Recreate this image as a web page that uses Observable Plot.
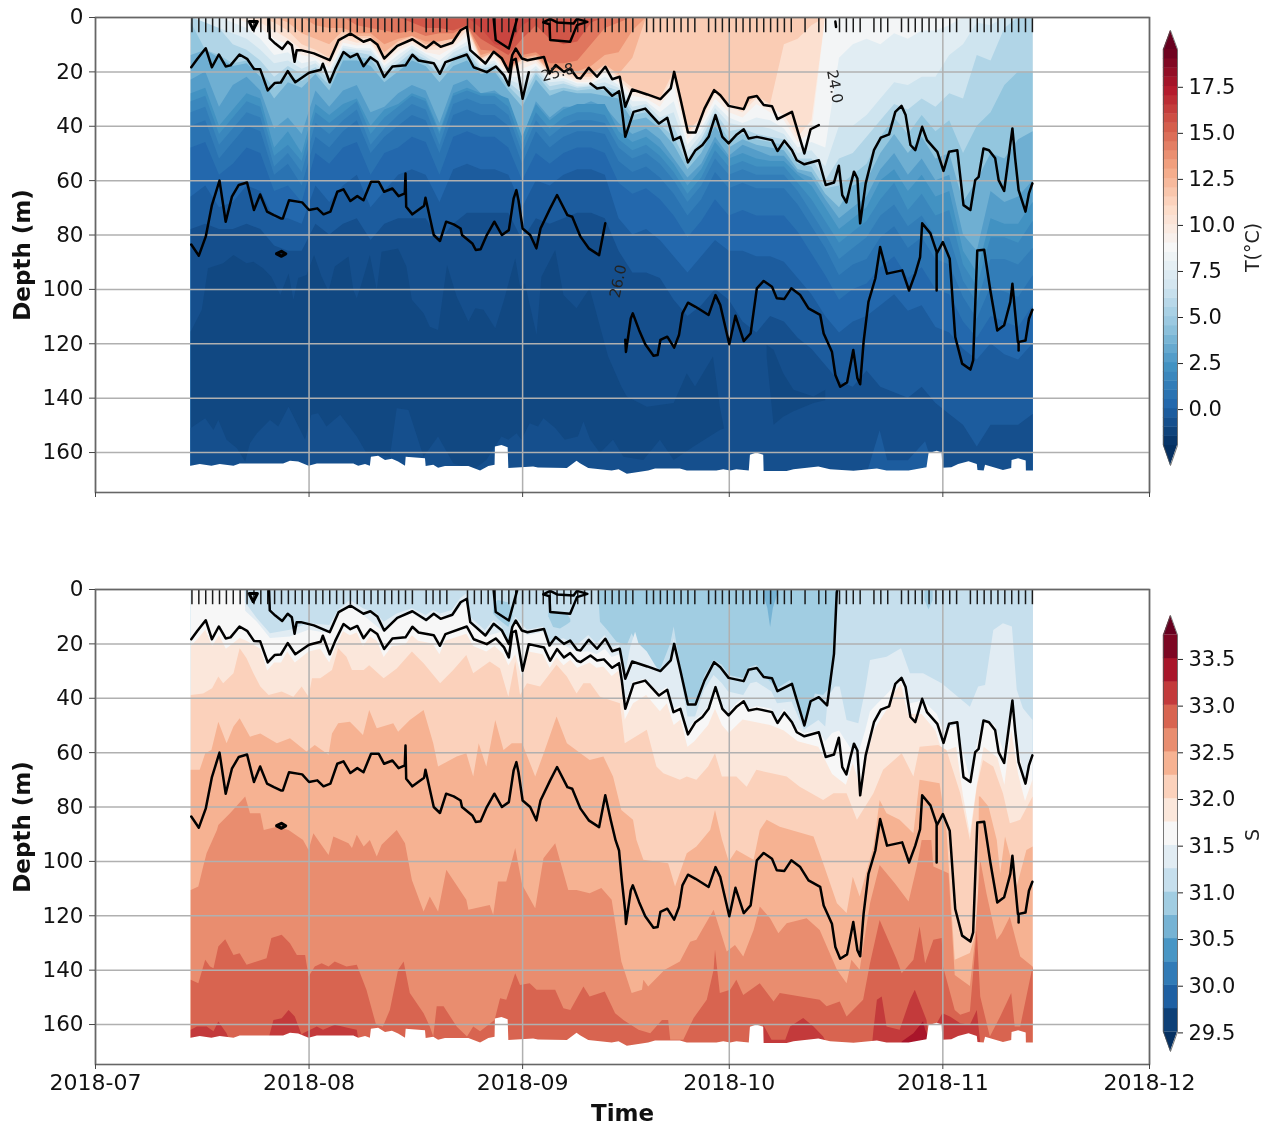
<!DOCTYPE html>
<html>
<head>
<meta charset="utf-8">
<style>
html,body{margin:0;padding:0;background:#fff;}
#chart{position:relative;width:1271px;height:1127px;overflow:hidden;font-family:"DejaVu Sans";filter:blur(0.4px);}
#chart>div,#chart>svg{position:absolute;}
</style>
<script src="https://cdn.jsdelivr.net/npm/d3@7"></script>
<script src="https://cdn.jsdelivr.net/npm/@observablehq/plot@0.6"></script>
</head>
<body>
<div id="chart"></div>
<script>
// All times are days since 2018-07-01, all depths metres.
const monthTicks = ["2018-07-01","2018-08-01","2018-09-01","2018-10-01","2018-11-01","2018-12-01"];
const depthTicks = [0,20,40,60,80,100,120,140,160];
const tempTicks = [0,2.5,5,7.5,10,12.5,15,17.5];
const salTicks = [29.5,30,30.5,31,31.5,32,32.5,33,33.5];
const profileDays = [14,15,16,17,18,19,20,21,22,23,24,25,26,27,28,29,30,31,32,33,34,35,36,37,38,39,40,41,42,43,44,45,46,48,49,50,51,54,55,56,57,58,59,60,61,62,63,64,65,66,67,68,69,70,71,72,73,74,75,76,77,78,80,81,82,83,84,85,86,87,89,90,91,92,93,94,95,96,97,98,99,100,101,103,105,106,108,109,110,111,113,114,115,117,118,119,120,121,122,123,124,125,127,128,129,130,131,132,133,134,135,136];

// black density contours: [day, depth]
const contourA = [[25.2,0.4],[25.3,7.7],[26.1,9.6],[27.1,11.6],[27.9,8.9],[28.5,10.2],[28.9,16.3],[29.2,12],[29.8,12],[31.7,13.2],[34,15.7],[35.3,8.3],[37,5.9],[38.9,8.9],[39.9,8],[40.9,9.9],[41.9,15.1],[43.8,10.4],[46,8],[48,11.2],[49.1,8.9],[50.1,10.8],[51.8,9.3],[53,4.7],[53.9,3.4],[54.4,12],[56.6,16.9],[57.8,12.6],[59,15.1],[60,20],[60.5,13.8],[61,11.4],[61.9,15.1],[62.7,15.7],[65.1,14.5],[65.9,20.6],[66.8,17.5],[68,20],[68.9,18.8],[69.9,22.2],[70.4,22.4],[71.6,18.5],[72.8,21.8],[74,18.1],[75,22.7],[76.1,21.8],[76.9,32.8],[77.9,26.5],[80.1,28.3],[82,30],[83.5,26.1],[84,20],[84.9,29.8],[86,42.3],[87.1,42.3],[88.4,33.5],[89.8,26.7],[90.7,28.6],[91.9,32.5],[94.1,33.7],[94.8,29.5],[96,28.9],[97,32.2],[98.2,32.6],[99,37.4],[101.1,34.7],[102.9,50],[103.8,41.1],[105,39.6],[106.2,42.6],[107.2,23.7],[107.6,1],[107.7,0]];
const contourB = [[13.9,18.3],[14.8,15.2],[16,11.3],[16.9,18.3],[17.9,13.6],[18.9,18],[19.6,17.6],[20.9,13.6],[22,15.2],[23,18.9],[23.9,19],[25,26.8],[26,24.1],[26.9,23.9],[27.9,19.7],[29,23.8],[31,20.3],[32.7,19.2],[33,17],[34,23.8],[34.8,18.9],[36,12.7],[37,14.6],[38,13.4],[38.9,17.9],[39.9,14.6],[40.9,16.4],[41.9,21.9],[43.1,18],[45,17.6],[46,13.7],[46.9,15.8],[49.1,16.8],[50,20.7],[50.8,16.4],[53.9,13.6],[54.9,18.3],[56.8,20.1],[58.1,18],[59.3,21.3],[60,25],[60.5,15.8],[61,15.2],[61.4,20.7],[62,29.9],[62.9,20.1],[65.1,21.3],[66,26.2],[67,21.9],[68,25],[68.9,23.4],[69.9,26.2],[70.4,26.7],[71.85,24.3],[72.8,26.1],[73.8,25.7],[75,28.8],[76,27.1],[76.4,33.5],[76.9,43.9],[78.1,34.7],[79.8,33.5],[81.8,39],[83,36.9],[83.9,45.1],[84.9,43.9],[86,53.3],[87.1,48.8],[88.1,46.9],[89,43.9],[90,35.9],[91,43.9],[91.9,46.3],[93.1,43],[94.1,41.1],[94.8,44.5],[96,43.9],[98.2,45.1],[99,49.1],[100,45.3],[101.1,48.8],[101.8,52.5],[102.9,54],[105,52.5],[106,61.6],[107.2,60.7],[107.9,54.5],[108.4,65.3],[109,68],[109.6,61.6],[110.1,56.7],[110.6,59.2],[111,75.7],[111.8,61],[113,48.8],[114,44.2],[115.2,43],[116.1,34.7],[117,32.5],[117.6,35.9],[118.3,46.9],[119,48.8],[120,40.2],[120.7,45.1],[122.2,49.4],[123.1,56.4],[123.9,49.4],[125.1,48.8],[126,69],[127,70.8],[127.7,59.8],[128.2,58.6],[128.9,48.2],[129.7,48.8],[130.6,51.8],[131.1,59.8],[131.9,63.8],[133.1,40.8],[133.5,51.8],[134,63.5],[135,71.4],[135.5,64.7],[136,61]];
const contourC = [[13.9,83.5],[15,87.6],[16,80.6],[16.9,69],[18,60],[18.9,75.1],[19.8,65.9],[20.8,61.6],[22,60.7],[23,70.8],[23.9,65.1],[24.9,71.4],[25.9,72.7],[26.9,73.9],[27.2,73.9],[28.1,67.2],[30,68],[31,70.8],[32.2,70.2],[33.1,72.4],[34.1,71.4],[35.1,64.1],[36,63.2],[37,67.5],[38,65.7],[38.9,67.2],[40,60.4],[41.1,60.4],[41.9,64.1],[43.1,62.9],[44,65.7],[44.9,64.7],[45,57.4],[45.1,69.6],[46,72.4],[47.7,69.2],[47.9,66.3],[49.1,80],[50,82.2],[50.9,75.1],[52,76.1],[53,77.6],[53.2,80],[54.7,83.1],[55.2,85.5],[55.9,85.2],[56.8,80],[57.9,75.1],[59,80],[60,78.2],[60.7,66.5],[61.1,63.5],[61.4,67.2],[62,77.6],[63.1,80],[64,84.9],[64.6,77.6],[66,70.2],[67,65.3],[68.5,72.7],[69.2,73.3],[70.4,80.6],[71.6,84.9],[73.1,87.4],[74,75.7],[74.8,84.9],[75.5,92.3],[76,96],[76.4,107],[76.9,118.5],[77,123],[77.7,110.7],[78,108.8],[78.9,114.9],[79.8,120.2],[81,124.4],[81.6,124.1],[82,118.6],[83,117.4],[84,121.4],[84.7,116.8],[85.2,108.8],[86,104.9],[87.1,106.4],[89,109.4],[90,102.1],[90.7,105.8],[92,120.2],[92.9,109.7],[94.1,119],[95.1,116.2],[96,99.6],[97,96.9],[98.2,99],[98.9,103.3],[100,103.5],[101,99.6],[102.3,102.1],[103.5,107],[105.2,109.4],[105.7,116.2],[106.9,122.9],[107.4,131.5],[108.1,135.8],[109.1,134.2],[110,122.3],[110.6,132.7],[111,134.9],[111.5,119.2],[112.2,104.6],[113.2,96],[113.9,84.4],[114.9,94.2],[117.1,93],[118.1,100.4],[119,94.2],[119.7,88.1],[120,75.7],[121.2,79.4],[122.1,86.2],[122.1,100.4],[122.1,86.9],[123,82.6],[124,88.7],[124.8,117.5],[125.8,127.3],[127,129.5],[127.4,126.1],[128,85.7],[129,85.4],[129.9,100.4],[130.9,115.1],[131.9,113.2],[132.8,104.6],[133.1,97.9],[133.9,119.4],[135,118.8],[135.5,110.8],[136,107.5]];
const contourV = [[57.8,0.4],[58.1,8.3],[60,11.4],[61.2,0.4]];
const contourLoop = [[65,1.8],[65.9,2.5],[66,8.3],[68.9,8.9],[69.9,2.8],[71.4,1.6],[69.9,0.5],[69.4,2.2],[67,1.8],[66,0.5],[65,1.8]];
const contourDiamond = [[22.3,1.5],[23.5,1.5],[22.9,4.5],[22.3,1.5]];
const contourLens = [[26.3,86.9],[27,86],[27.6,86.9],[27,87.8],[26.3,86.9]];
const contourDot = [[134,120],[134,122.5]];
const contourFragment = [[107.4,1.5],[107.5,3.5]];
const contourLabels = [
  {day:67.1,depth:20.2,text:"25.8",rotate:-15},
  {day:107.3,depth:25.4,text:"24.0",rotate:80},
  {day:75.9,depth:97,text:"26.0",rotate:-78}
];

// sea floor / deepest sample
const bottomEdge = [[13.6,165],[13.9,165],[15.2,164.4],[16.9,165],[18.1,164.4],[20.1,165],[21,164.2],[27.3,164.2],[28.3,163.2],[29.5,163.5],[31,165],[32.2,164.2],[37.5,164.2],[38.2,165],[39.2,164.4],[39.9,165],[40.05,161.7],[41.1,161.4],[42.1,162.9],[43.1,162.5],[44,163.5],[45,165],[45.1,161.7],[47.9,162.3],[48,165.1],[49.1,164.7],[49.8,165.8],[50.8,165.1],[54.2,165.1],[55.9,166.8],[57.1,165.1],[58,164.7],[58.05,158],[59,157.4],[59.9,158.2],[60,165.9],[63.6,165.3],[64.3,165.7],[68.5,165.9],[69.9,163.2],[70.4,164.1],[71.6,165.9],[75,166.8],[76,166.3],[77.2,168],[80.3,166.8],[81.3,166.1],[84.9,166.1],[85.9,166.8],[90.2,166.8],[91.2,166.3],[92.2,166.8],[93.1,166.3],[94.9,166.8],[95.07,161],[96,160.2],[97,161],[97.06,167],[100.4,167],[101.4,166.3],[105,165.3],[106.7,166.3],[110.1,166.9],[113.5,166.1],[114.9,166.8],[118.1,166.8],[120.7,165.6],[121,160.4],[122.2,159.5],[122.9,160.2],[123,165.8],[124.3,165.6],[125.3,164.4],[126.8,163.4],[128,164.4],[128.1,166.6],[129,166.8],[129.2,164.7],[131.8,166.6],[133,165.9],[133.05,162.9],[134,162.3],[135.1,163.1],[135.13,166.8],[136.1,166.8],[136.4,166.8]];

// isotherm depths on a two-day grid
const gridDays = [13.9,16,18,20,22,24,26,28,30,32,34,36,38,40,42,44,46,48,50,52,54,56,58,60,62,64,66,68,70,72,74,76,78,80,82,84,86,88,90,92,94,96,98,100,102,104,106,108,110,112,114,116,118,120,122,124,126,128,130,132,134,136.1];
const iso6 = [0,2,4,10,12,16,22,18,21,18.5,23,12.5,13,14,20.5,17,13,15.5,20,14.5,12.5,19,18,24,28,20,25.5,24.5,26,25.5,25.5,27,34.5,33.5,38.5,40,52,45,35,42,41,43,44,45,52,52,60,52,50,44,38,32,34,30,33,28,30,14,16,4,0,0];
const iso5 = [2,12,14,17,16,20,26,21.5,23.5,20,25,14,14.5,15.5,22,18.5,14,16.5,21.5,16,14,20,19,25.5,30.5,21,27,26,27,26.5,27,28,36,35,39.5,44,54,47,37,45,43,45,46,47,54,55,63,62,58,54,44,37,43,36,42,38,50,40,35,25,20,20];
const iso4 = [14,12,15,18,17,22,30,24,26,21,27,16,16,18,24,20,16,18,24,18,16,21,20,27,33,23,29,27,28,28,29,30,38,37,41,47,56,50,40,48,45,47,48,49,56,57,65,70,62,60,50,43,50,44,52,50,68,60,50,52,45,42];
const iso3 = [23,20,33,25,22,27,41,37,43,27,33,27,25,35,33,28,25,27,39,25,23,28,27,31,45,31,37,33,33,31,33,39,43,41,45,52,59,54,44,51,47,49,51,51,57,59,67,74,70,66,56,50,58,52,60,58,80,86,64,68,66,60];
const iso25 = [28,26,40,34,28,30,48,42,50,32,36,32,30,40,34,32,28,30,42,28,26,28,28,30,44,32,38,34,32,32,32,42,46,44,48,54,62,56,46,52,50,52,53,53,58,62,70,78,74,70,60,56,64,58,66,64,86,94,74,76,76,68];
const iso2 = [31,29,43,37,31,33,51,47,53,35,39,35,31,43,37,33,29,31,43,29,27,29,29,33,47,35,41,37,35,35,36,45,49,47,51,57,65,59,49,55,53,55,55,55,61,67,75,83,79,75,67,61,71,65,73,71,91,99,81,81,83,75];
const iso15 = [35,33,47,41,35,37,55,50,57,39,43,38,34,47,41,36,32,34,47,32,30,32,32,36,50,38,44,40,38,38,39,48,52,50,54,60,68,62,52,58,56,58,58,58,64,72,80,89,85,81,73,69,77,73,81,81,97,105,89,89,91,85];
const iso1 = [40,38,52,46,40,42,58,54,62,44,48,42,38,50,44,40,36,38,50,36,34,36,36,40,54,42,48,44,42,42,43,53,57,55,59,65,73,67,57,63,61,63,63,63,69,77,85,95,91,89,81,77,85,81,89,91,103,111,99,101,103,95];
const iso05 = [48,46,58,54,48,50,64,62,68,50,54,48,46,58,50,48,44,46,58,44,42,44,44,48,60,50,54,50,48,48,50,61,65,63,67,73,81,75,67,73,71,73,73,73,79,87,95,104,100,98,92,88,96,92,100,102,112,118,110,112,114,106];
const iso0 = [66,62,70,68,62,64,74,74,76,62,68,62,58,70,64,58,56,58,68,56,54,56,56,58,70,60,62,58,56,56,58,74,80,78,82,88,94,88,82,86,86,88,88,90,96,102,110,116,112,110,106,102,108,106,114,116,122,126,120,124,126,120];
const isoM05 = [78,76,78,78,76,78,84,86,86,76,80,76,74,82,76,74,74,74,82,76,72,72,72,72,82,74,76,74,72,72,74,86,94,94,96,104,110,106,100,104,112,116,110,112,118,122,128,134,136,130,136,138,140,136,142,146,150,158,150,150,150,146];

// warm surface isotherms [day, depth]
const iso16 = [[13.9,0],[54,0],[56,4],[58,10],[60,11],[62,3],[64,0],[136.1,0]];
const iso15u = [[13.9,0],[44,0],[46,2],[48,4],[50,4],[52,5],[54,3],[56,8],[58,11],[60,14],[62,8],[64,3],[66,8],[68,10],[70,9],[72,2],[74,0],[136.1,0]];
const iso14 = [[13.9,0],[36,0],[38,3],[40,4],[42,5],[44,6],[46,5],[48,7],[50,6],[52,6],[54,3],[56,12],[58,12.5],[60,19],[62,14],[64,13],[66,17],[68,17],[70,16],[72,10],[74,4],[76,2],[78,0],[136.1,0]];
const iso13 = [[13.9,0],[30,0],[32,3],[34,4],[36,4],[38,6],[40,6],[42,10],[44,8],[46,7],[48,9],[50,9],[52,8],[54,3],[56,14],[58,12.5],[60,19],[62,15],[64,14],[66,19],[68,19],[70,20],[72,18],[74,14],[76,13],[78,5],[80,0],[136.1,0]];
const iso12 = [[13.9,0],[26,0],[28,2],[30,6],[32,8],[34,10],[36,5],[38,7],[40,7],[42,13],[44,9],[46,7],[48,10],[50,9],[52,8],[54,3.5],[56,15],[58,12.8],[60,19.5],[62,15.5],[64,14.5],[66,20],[68,19.5],[70,21],[72,21],[74,17.5],[76,21],[78,15],[80,0],[136.1,0]];
const iso11 = [[13.9,0],[24,0],[26,2],[28,5],[30,10],[32,12],[34,15],[36,6.5],[38,8],[40,7.5],[42,14.5],[44,10],[46,7.8],[48,11],[50,10.5],[52,8.8],[54,3.8],[56,15.5],[58,12.8],[60,20],[62,15.7],[64,15],[66,20.3],[68,20],[70,22],[72,22],[74,18],[76,22],[78,26],[80,28],[82,30],[84,20],[86,42],[88,37],[90,27],[92,32],[94,33.5],[96,29],[98,32],[100,10],[102,8],[104,3],[106,0],[136.1,0]];
const iso10 = [[13.9,0],[22,0],[24,2],[26,5],[28,8],[30,12],[32,14],[34,17],[36,8],[38,9.5],[40,9],[42,16],[44,11],[46,9],[48,12],[50,12],[52,10],[54,5],[56,16],[58,14],[60,20.5],[62,17],[64,16],[66,21],[68,21],[70,23],[72,23],[74,19],[76,23],[78,27.5],[80,29],[82,31],[84,22],[86,43],[88,38],[90,28],[92,33],[94,35],[96,30],[98,33],[100,36],[102,44],[104,38],[106,0],[136.1,0]];
const iso9 = [[13.9,0],[20,0],[22,2],[24,4],[26,8],[28,10],[30,14],[32,15],[34,18.5],[36,9.5],[38,10.5],[40,10],[42,17],[44,12.5],[46,10],[48,13],[50,14],[52,11],[54,7],[56,17],[58,15],[60,21.5],[62,19],[64,17],[66,22],[68,22],[70,24],[72,24],[74,20.5],[76,24],[78,29],[80,30],[82,33],[84,25],[86,45],[88,39.5],[90,30],[92,35],[94,37],[96,32],[98,35],[100,38],[102,46],[104,42],[106,0],[136.1,0]];
const iso8 = [[13.9,0],[18,0],[20,2],[22,4],[24,8],[26,14],[28,13],[30,17],[32,16],[34,20],[36,10.5],[38,11.5],[40,11.5],[42,18],[44,14],[46,10.5],[48,13.5],[50,16],[52,12],[54,9],[56,17.5],[58,16],[60,22],[62,22],[64,18],[66,23],[68,22.5],[70,24.5],[72,24.5],[74,22],[76,25],[78,31],[80,31],[82,35],[84,31],[86,47],[88,41],[90,32],[92,37],[94,39],[96,37],[98,38],[100,41],[102,48],[104,46],[106,48],[108,15],[110,10],[112,8],[114,10],[116,6],[118,8],[120,5],[122,5],[124,3],[126,0],[136.1,0]];
const iso7 = [[13.9,0],[16,3],[18,4],[20,6],[22,8],[24,12],[26,17],[28,16],[30,19],[32,17],[34,21.5],[36,11.5],[38,12],[40,12.5],[42,19],[44,15.5],[46,11.5],[48,14.5],[50,18],[52,13],[54,10.5],[56,18],[58,17],[60,23],[62,25],[64,19],[66,24],[68,23.5],[70,25.5],[72,25],[74,24],[76,26],[78,33],[80,32],[82,37],[84,35],[86,49.5],[88,43],[90,33.5],[92,39],[94,40],[96,40],[98,41],[100,43],[102,50],[104,49],[106,55],[108,40],[110,40],[112,36],[114,30],[116,24],[118,25],[120,22],[122,22],[124,14],[126,10],[128,2],[130,3],[132,0],[136.1,0]];

// deep cold water and warmer bottom layer [day, depth]
const isoM1 = [[13.9,115.7],[15.5,107.7],[16.4,92.4],[18.6,90.6],[20.1,87.5],[22,90.6],[23,90],[24.4,92.4],[25.6,95.5],[26.9,102.2],[28.1,94.3],[28.8,104],[29.5,96],[30.7,94.9],[31.8,87.5],[32.9,95.5],[33.9,101],[34.8,91.8],[36.8,88.1],[37.5,100.4],[38,103.4],[38.7,97.9],[39.9,87.5],[40.9,100.4],[41.6,86.3],[44,85.1],[45.2,91.8],[46,104],[47.7,109],[48.6,113.9],[49.8,115.1],[51.1,91.2],[52.5,102.8],[54.2,112],[55.2,107.1],[56.4,107.7],[58.1,114.5],[59.3,104.7],[61,88.7],[61.7,99.2],[62.4,97.9],[64.1,116.9],[64.8,95.5],[66.8,85.7],[68,102.2],[69.9,107.1],[71.8,99.8],[74.5,125],[76.4,135.9],[77.2,139.6],[80.1,143.3],[84,142],[85.9,131],[87.1,135.9],[89.7,124.9],[90.7,143.3],[92,160.4],[92.2,178],[136.1,178]];
const warmBottom = [[13.9,151.2],[16,147.6],[17.2,151.9],[17.9,148.2],[19.1,155.5],[20.6,158.6],[21.8,163.5],[22.5,156.8],[23.5,153.1],[25.4,148.2],[26.6,150.6],[28.1,143.3],[30.5,155.5],[31.4,146.3],[32.4,145.7],[33.6,150.6],[35.6,146.3],[38,154.3],[39.4,160.4],[42.8,161.7],[43.8,143.9],[45.5,144.5],[47.7,161.7],[49.8,154.3],[52,164.1],[54.9,166.6],[56.8,162.9],[59,154.3],[60,155.5],[61.2,153.1],[61.9,155.5],[63.1,149.4],[64.3,150.6],[65.1,147.6],[66.8,151.2],[68.2,155.5],[70.1,154.3],[70.9,148.8],[71.9,155.5],[73.3,160.4],[75.2,155.5],[76.7,161.7],[79.6,162.9],[82,155.5],[84,162.9],[86.9,158],[90.7,151.9],[92,150.6],[92.2,178],[136.1,178]];
const coldPatchDays = [97.5,98.5,99.9,101.4,104.3,106];
const coldPatchTop = [120.6,122.4,131,137.1,139.6,137.1];
const coldPatchBottom = [125,150,147,145,142,141];
const warmPatchDays = [112,113.9,115,118,120.5,121];
const warmPatchTop = [168,152,163,163,156,160];

// salinity isohalines [day, depth]
const sal31 = [[13.9,0],[73,0],[73.3,12],[74.3,14.9],[75.7,19.4],[77.2,20.6],[77.9,16.3],[79.1,23],[82,29.8],[83.5,20],[84,13.8],[84.4,20],[85.9,41.4],[87.1,42],[88.5,31.6],[89.8,26],[91,27.9],[92,31.6],[94.1,32.8],[94.8,29],[96,27.9],[97,31.6],[99,36.5],[100.9,33.5],[103.1,49.4],[104.5,38.4],[105.7,39],[106.9,35.3],[107.6,0.4],[107.8,0],[136.1,0]];
const sal3125 = [[13.9,0],[21.7,0],[21.8,5],[23.5,10.8],[25.4,16.3],[28.3,15],[31,12.6],[34,13.2],[35.3,7.7],[37,4],[38.9,7.1],[40.9,9],[41.9,12],[43.8,9],[46,7.1],[48,9.6],[49.1,7.7],[50.1,9],[51.8,7.7],[53,3.4],[53.9,1.6],[54.4,10.2],[56.6,15.1],[57.8,11.4],[59,13.8],[60,20],[61,10.2],[62.7,15],[65.1,13.8],[65.9,19.4],[68,18.1],[69.9,20.6],[71.6,16.9],[72.8,20],[74,16.9],[75,21.2],[76.1,20.6],[76.9,31.6],[77.7,21.2],[78.4,15.7],[78.9,20],[80.1,23],[82,31],[83.5,26.1],[84,18.1],[84.9,31],[86,46.9],[87.1,46.9],[88.4,37.1],[89.8,31.6],[91,34.7],[91.9,37.7],[94.1,39],[95.1,34.7],[96,34.1],[98.2,37.7],[99,42],[101.1,41.4],[102.9,51.8],[105,48.2],[106,50.6],[106.4,39.6],[107.4,35.9],[108.1,35.9],[109.1,48.2],[110.8,49.4],[111.8,37.1],[112.5,26.1],[114.9,24.9],[117,21.8],[118.3,31],[120.2,31],[122.9,34.7],[127,43.3],[128.2,35.9],[129.2,35.3],[130.4,15.1],[131.8,12.6],[133.1,13.8],[133.8,37.1],[134.7,43.9],[136.1,48.2]];
const sal315 = [[13.9,0],[21.7,0],[21.8,8],[23.5,12],[25.4,18],[28.3,17.5],[31,15],[34,16.3],[35.3,9],[37,6.5],[38.9,9.6],[41.9,15.7],[43.8,10.8],[46,8.9],[48,12],[49.1,9.6],[51.8,10.2],[53.9,4],[54.4,12.6],[56.6,17.5],[59,15.7],[60,20.6],[61,12],[62.7,17],[65.1,15.7],[65.9,21],[68,20.6],[69.9,23],[71.8,23],[72.8,24],[74,22],[75,25],[76.1,24],[76.9,42],[78.1,34],[79.8,33],[81.8,38],[83,36],[83.9,44],[84.9,43],[86,52],[87.1,48],[88.1,46],[89,43],[90,35],[91,43],[91.9,45.5],[93.1,42],[94.1,40],[94.8,44],[96,43],[98.2,44],[99,48],[100,44],[101.1,48],[101.8,51],[102.9,53],[105,52],[106,56],[107,53],[108,52],[109,56],[110.6,62],[111.8,52],[112.5,45],[113.6,42],[115.2,38],[116.1,35],[117,33],[118.3,42],[120.2,41],[122.2,46],[123.1,52],[125,50],[126,60],[127,70],[127.7,60],[128.9,48],[130.6,50],[131.9,60],[133.1,42],[133.8,55],[135,72],[136.1,62]];
const sal3175 = [[13.9,21],[15,18],[16,15],[17,21],[18,17],[19,22],[21,18],[22,19],[24,22],[25,30],[26,27],[27,27],[27.9,23],[29,27],[31,23],[32.7,22],[34,27],[34.8,22],[36,15.5],[37,17],[38,16],[38.9,21],[39.9,17.5],[40.9,19],[41.9,25],[43.1,21],[45,20.5],[46,17],[46.9,19],[49,20],[50,24],[50.8,19],[53.9,16.5],[54.9,21],[56.8,23],[58,21],[59.3,24],[60,28],[61,24],[62,33],[62.9,23],[65,24],[66,29],[67,25],[68,28],[69,26],[70,29],[71.8,27],[72.8,29],[73.8,28.5],[75,32],[76,30],[76.4,36],[76.9,48],[78.1,42],[80,39],[82,45],[83,42],[84,50],[85,48],[86,58],[87,56],[89,50],[90,44],[91,50],[92,53],[94,48],[96,49],[98,50],[100,52],[102,56],[105,58],[107,68],[109,72],[110,64],[111,72],[112,62],[113,52],[115,44],[116,38],[117,35],[118,46],[120,46],[122,52],[123,60],[125,58],[126,76],[127,90],[128,72],[129,58],[131,62],[132,72],[133,52],[134,68],[135,78],[136.1,70]];
const sal32 = [[13.9,39],[15.7,38.4],[17,36.5],[17.9,32.2],[18.6,34.7],[20.1,31],[21,21.8],[22,25.5],[23,31],[24,35.9],[25.2,39],[27.1,37.7],[28.8,39.6],[30,35.9],[31,39.6],[31.5,32.8],[32.7,32.8],[34.4,29.8],[35.3,21.8],[36.5,24.9],[37.3,29.8],[39,29.8],[39.8,28],[41.9,32.8],[43.8,29.2],[46,23],[47.7,27.3],[50.1,34.7],[52,29.8],[53.9,24.3],[54.9,31],[57.3,26.7],[58.8,29.2],[60,39.6],[61,26.7],[61.7,39],[62.7,34.7],[64.6,35.9],[67,27.9],[68.5,32.2],[69.9,38.4],[70.9,34.7],[71.9,34.7],[73.3,39.6],[76.2,42],[76.9,56.7],[80.1,51.8],[81.5,65.3],[82.5,67.8],[84.9,70.2],[85.9,69],[87.3,70.2],[89,65.3],[90,60.4],[91,69],[93.1,69],[94.6,72.7],[96,66.5],[100.4,69],[102.3,72.7],[105.7,77.6],[107.2,75.1],[109.1,75.1],[110.6,84.9],[113,75.1],[114.4,66.5],[117.1,60.4],[118.8,69],[119.7,58],[122.4,57.4],[123.6,59.2],[125.6,75.1],[127,92.3],[128,72.7],[128.9,62.9],[130.4,65.3],[131.8,75.1],[132.8,86.2],[134.3,84.9],[136.1,76.3]];
const sal3225 = [[13.9,66.5],[15.2,66.5],[16,60.4],[16.9,59.2],[17.9,48.8],[19.1,56.7],[20.1,50.6],[21,47.5],[22.5,54.3],[24,53.1],[26.4,56.7],[28.3,54.9],[30.7,59.8],[31.9,57.4],[33.9,61],[34.4,53.1],[35.3,49.4],[37,48.8],[38.9,53.7],[39.8,44.5],[40.9,51.2],[43.3,49.4],[44,52.5],[45.7,48.2],[47.7,44.5],[49.1,56.7],[49.8,65.3],[52.5,61.6],[53.9,60.4],[54.9,69],[55.7,56.7],[56.8,65.3],[58.1,48.2],[59.3,59.2],[60.5,56.7],[62,56.7],[63.9,69],[65.3,59.2],[67,46.9],[68.5,56.7],[71.8,62.9],[73.8,61.6],[75.2,69],[76.4,81.3],[78.1,84.9],[78.6,92.3],[79.6,99.6],[83.2,100.9],[84.2,109.4],[85.9,97.2],[87.3,94.7],[89.3,88.6],[90,81.3],[91,92],[92,100.2],[93.1,96],[95.6,99.6],[96.5,88.6],[97.5,84.9],[99.4,87.4],[104.3,91],[105.7,100.9],[107.7,115.6],[109.1,119.2],[110,105.8],[111,113.1],[113,94.7],[113.9,77.6],[114.9,82.5],[116.8,84.9],[118.8,89.8],[119.7,70.2],[122.6,71.4],[123.6,88.6],[124.8,136.4],[127,133.9],[128.2,122.9],[128.3,76.3],[128.5,76.3],[129.7,80],[130.9,92.3],[131.4,104.5],[132.1,91],[133,99.6],[133.8,109.4],[135.2,96],[136.1,94.7]];
const sal325 = [[13.9,110.7],[15,109.4],[15.7,102.1],[16.2,97.2],[17.7,88.6],[17.9,86.8],[19.6,82.5],[21.8,76.3],[22.5,82.5],[24,82.5],[24.5,88.6],[26.4,87.4],[28.1,88.6],[30.2,92.3],[31,96],[31.7,89.8],[32.7,93.5],[33.9,97.8],[34.6,91],[36.8,93.5],[37.3,95.3],[38,90.4],[39,94.7],[39.9,92.3],[40.9,98.4],[41.6,94.1],[43.8,88.6],[45,93.5],[46,107],[47.7,118.6],[48.6,113.1],[49.8,118.6],[51,103.3],[53.9,114.3],[54.2,118],[57.3,116.2],[57.8,119.8],[58.5,107.6],[59.7,107.6],[61,95.3],[62,108.8],[63.9,117.4],[65.1,99],[66.8,93.5],[68.7,110.7],[69.9,110.7],[71.8,111.9],[73.5,110],[75,114.3],[76.4,137],[77.9,148.6],[79.4,147.4],[79.6,143.7],[80.3,146.2],[82.7,140],[84.9,137],[86.4,129.7],[87.3,129],[89.8,118],[91.7,133.3],[92.9,130.9],[94.1,135.2],[95.6,125.4],[96.5,116.8],[98,121.1],[99.2,126.6],[100.4,122.9],[103.3,121.1],[105.2,125.4],[107.7,140],[109.1,145],[109.8,136.4],[111,140],[112.5,115.6],[113.9,101.5],[116.1,108.2],[118.1,114.9],[119.3,102.1],[120,92.3],[121.4,92.3],[121.7,102.1],[123.9,104.5],[124.8,142],[127,146],[127.7,130],[128.5,99.6],[129.4,111.9],[130.9,129],[131.6,126.6],[132.8,120.5],[134.3,135.2],[136.1,138.8]];
const sal3275 = [[13.9,143.7],[15,145],[16,136.4],[16.7,138.8],[17.2,139.5],[17.9,131.5],[18.9,128.8],[20.1,134.6],[21,134],[22,138.2],[24.9,135.8],[25.6,128.4],[27.1,127.2],[28.3,130.3],[29.3,134.6],[30.5,134.6],[31,142.5],[31.9,138.8],[32.9,137.6],[33.9,138.8],[34.8,137],[36.5,138.8],[38,138.2],[39.4,147.4],[40.8,160.3],[41.8,160.9],[42.8,154.8],[44,140],[44.8,137],[45.7,148.6],[47.7,156],[48.6,160.9],[49.1,164.6],[49.6,153.5],[50.6,153.5],[52.5,160.9],[54,164.6],[54.9,160.9],[55.9,162.7],[58,158.5],[58.8,150.5],[59.7,151.1],[61,141.3],[61.7,145.6],[63.1,145],[64.1,147.4],[66.8,147.4],[68,154.2],[69,154.8],[70.9,146.2],[71.8,149.9],[74,148],[75.5,156],[76.7,158.5],[78.9,162.1],[80.6,163.4],[82.3,158.5],[83.2,158.5],[83.5,165.8],[85.4,165.8],[86.9,157.8],[88.8,151.1],[89.8,140],[90,132.7],[90.7,148.6],[92.2,147.4],[93.1,143.7],[94.1,149.3],[96.5,145],[98.5,151.7],[99.4,148.6],[105.2,151.1],[106.2,153.5],[108.1,151.7],[109.1,157.2],[111.5,151.1],[112.5,137.6],[113.9,121.7],[116.4,136.4],[117.1,141.3],[118.8,136.4],[119.7,124.1],[120.5,137.6],[121.7,129],[122.9,128.4],[123.1,138.8],[124.8,154.8],[125.6,156.6],[127,155.4],[128,125.4],[128.5,149.9],[129.9,164.6],[131.4,157.2],[133,148.6],[133.5,160.9],[134.3,160.9],[136.1,138.8]];
const sal33 = [[13.9,162.1],[14.8,160.9],[16.2,160.9],[17.2,162.7],[17.9,159.1],[19.1,163.4],[20.1,170],[24.7,170],[25.9,158.5],[27.1,157.9],[28.1,154.8],[29,157.2],[30,164],[30.2,163.4],[32.2,160.9],[33.1,162.1],[34.8,160.3],[36.8,161.5],[38,162.1],[38.5,170],[96.9,170],[97,160.3],[98.2,165.8],[100.2,165.8],[100.9,160.9],[102.8,157.8],[104.3,160.9],[105.7,164.6],[106.7,170],[112.7,170],[113,162.1],[113.5,151.1],[114.2,149.9],[114.9,160.9],[116.8,162.1],[118.3,151.1],[119,147.4],[120.7,158.5],[121,165.2],[123,156],[124.1,157.2],[125.6,159.7],[127,160.3],[128,154.8],[128.5,167],[129,170],[136.1,170]];
const sal3325 = [[13.9,178],[116.7,178],[117.1,166.4],[118.8,163.4],[120.2,159],[120.5,162],[121,165],[121.05,178],[136.1,178]];
const salPatches = [
  {v:30.875,days:[57.8,58.5,60,60.6],top:[5,4,5,8],bottom:[9,11,14,10]},
  {v:30.875,days:[65.8,66.5,67.5,68.5,69],top:[8.5,8,8.5,9,11],bottom:[10,14,14.5,13,12]},
  {v:30.625,days:[97,97.6,98,98.4,99],top:[0,0,0,0,0],bottom:[2,7,14,7,2]},
  {v:30.875,days:[120.4,121,121.6],top:[0,0,0],bottom:[4,7.5,4]}
];

const rdbuColors = ["#053061","#2166ac","#4393c3","#92c5de","#d1e5f0","#f7f7f7","#fddbc7","#f4a582","#d6604d","#b2182b","#67001f"];
const cmap = (lo,hi)=>({type:"linear",domain:rdbuColors.map((c,i)=>lo+(hi-lo)*i/10),range:rdbuColors,interpolate:"rgb",clamp:true});

const dayToDate = d=>new Date(Date.UTC(2018,6,1)+d*864e5);
const FLOOR = 178;
const months = monthTicks.map(s=>new Date(s+"T00:00:00Z"));
const FONT = "DejaVu Sans";

const band = (rows,v)=>Plot.areaY(rows,{x:r=>dayToDate(r[0]),y1:r=>r[1],y2:()=>FLOOR,fill:()=>v,clip:true});
const patch = (days,top,bottom,v)=>Plot.areaY(d3.zip(days,top,bottom),{x:r=>dayToDate(r[0]),y1:r=>r[1],y2:r=>r[2],fill:()=>v,clip:true});
const ink = (rows,sw=2.5)=>Plot.line(rows,{x:r=>dayToDate(r[0]),y:r=>r[1],stroke:"#000",strokeWidth:sw,strokeLinejoin:"round",clip:true});
const onGrid = a=>d3.zip(gridDays,a);

function panel({fills,lines,extra=[],top,height,marginBottom,labels,cm}){
  const svg = Plot.plot({
    width:1271,height,marginLeft:95,marginRight:122,marginTop:17,marginBottom,
    style:{fontFamily:FONT,background:"transparent",color:"#111",overflow:"visible"},
    x:{type:"utc",domain:[months[0],months[5]]},
    y:{domain:[174.7,0]},
    color:cm,
    marks:[
      ...fills,
      Plot.areaY(bottomEdge,{x:r=>dayToDate(r[0]),y1:r=>r[1],y2:()=>FLOOR,fill:"#fff",clip:true}),
      Plot.gridX(months,{stroke:"#b0b0b0",strokeOpacity:1,strokeWidth:1.5}),
      Plot.gridY(depthTicks,{stroke:"#b0b0b0",strokeOpacity:1,strokeWidth:1.5}),
      Plot.ruleX(profileDays,{x:dayToDate,y1:()=>0.4,y2:()=>5.6,stroke:"#1a1a1a",strokeWidth:1.5}),
      ...lines,
      ...extra,
      Plot.frame({stroke:"#666",strokeWidth:1.6}),
      Plot.axisY(depthTicks,{anchor:"left",tickSize:6,tickPadding:6,fontSize:21.5,label:null,stroke:"#444"}),
      Plot.axisX(months,{anchor:"bottom",tickSize:5,tickPadding:5,fontSize:22,label:null,stroke:"#444",
        tickFormat:labels?d3.utcFormat("%Y-%m"):()=>""}),
      Plot.text(["Depth (m)"],{frameAnchor:"left",dx:-73,rotate:-90,textAnchor:"middle",fontSize:23,fontWeight:"bold",fill:"#111"})
    ].concat(labels?[Plot.text(["Time"],{frameAnchor:"bottom",dy:49,lineAnchor:"middle",fontSize:23,fontWeight:"bold",fill:"#111"})]:[])
  });
  svg.style.left="0px";svg.style.top=top+"px";
  return svg;
}

const tempCm = cmap(-2,19.5);
const salCm = cmap(29.5,33.75);

const tempFills = [
  band([[13.9,-1],[136.1,-1]],16),
  band(iso16,15.5),band(iso15u,14.5),band(iso14,13.5),band(iso13,12.5),band(iso12,11.5),band(iso11,10.5),
  band(iso10,9.5),band(iso9,8.5),band(iso8,7.5),band(iso7,6.5),
  band(onGrid(iso6),5.5),band(onGrid(iso5),4.5),band(onGrid(iso4),3.5),band(onGrid(iso3),2.75),
  band(onGrid(iso25),2.25),band(onGrid(iso2),1.75),band(onGrid(iso15),1.25),band(onGrid(iso1),0.75),
  band(onGrid(iso05),0.25),band(onGrid(iso0),-0.25),band(onGrid(isoM05),-0.75),
  band(isoM1,-1.05),band(warmBottom,-0.75),
  patch(coldPatchDays,coldPatchTop,coldPatchBottom,-1.05),
  patch(warmPatchDays,warmPatchTop,warmPatchDays.map(()=>FLOOR),-0.25)
];
const salFills = [
  band([[13.9,-1],[136.1,-1]],30.875),
  band(sal31,31.125),band(sal3125,31.375),band(sal315,31.625),band(sal3175,31.875),band(sal32,32.125),
  band(sal3225,32.375),band(sal325,32.625),band(sal3275,32.875),band(sal33,33.125),band(sal3325,33.375),
  ...salPatches.map(p=>patch(p.days,p.top,p.bottom,p.v))
];

const smallContours = [ink(contourV),ink(contourLoop),ink(contourDiamond,3),ink(contourLens,3.2),ink(contourDot)];
const chart = document.getElementById("chart");

// top panel: contour lines are broken where their labels sit
chart.append(panel({
  top:0,height:520,marginBottom:28,labels:false,cm:tempCm,fills:tempFills,
  lines:[
    ink(contourA.filter(r=>r[0]<=105)),ink(contourFragment),
    ink(contourB.filter(r=>r[0]<=62.9)),ink(contourB.filter(r=>r[0]>=71.85)),
    ink(contourC.filter(r=>r[0]<=74)),ink(contourC.filter(r=>r[0]>=76.9)),
    ...smallContours
  ],
  extra:[Plot.text(contourLabels,{x:d=>dayToDate(d.day),y:"depth",text:"text",rotate:d=>d.rotate,fontSize:15,fill:"#222"})]
}));
chart.append(panel({
  top:572,height:555,marginBottom:63,labels:true,cm:salCm,fills:salFills,
  lines:[ink(contourA),ink(contourB),ink(contourC),...smallContours]
}));

function colorbar({left,top,height,mt,mb,lo,hi,step,tipLo,tipHi,ticks,cm,label,labelY,fmt}){
  const edges=d3.range(Math.round((hi-lo)/step)).map(i=>lo+i*step);
  const svg=Plot.plot({
    width:121,height,marginLeft:13,marginRight:94,marginTop:mt,marginBottom:mb,
    style:{fontFamily:FONT,background:"transparent",color:"#111",overflow:"visible"},
    x:{domain:[0,1],axis:null},y:{domain:[tipLo,tipHi]},color:cm,
    marks:[
      Plot.rect(edges,{x1:()=>0,x2:()=>1,y1:d=>d,y2:d=>d+step,fill:d=>d+step/2,inset:-0.2}),
      Plot.areaY([[0,lo],[0.5,tipLo],[1,lo]],{x:r=>r[0],y1:r=>r[1],y2:()=>lo,fill:"#053061"}),
      Plot.areaY([[0,hi],[0.5,tipHi],[1,hi]],{x:r=>r[0],y1:r=>r[1],y2:()=>hi,fill:"#67001f"}),
      Plot.line([[0,lo],[0,hi],[0.5,tipHi],[1,hi],[1,lo],[0.5,tipLo],[0,lo]],{x:r=>r[0],y:r=>r[1],stroke:"#555",strokeWidth:0.8}),
      Plot.axisY(ticks,{anchor:"right",tickSize:5,tickPadding:6,fontSize:21,label:null,stroke:"#222",tickFormat:fmt,dy:1}),
      Plot.text([label],{x:()=>1,y:()=>labelY,dx:75,rotate:-90,fontSize:19,fill:"#222",clip:false})
    ]
  });
  svg.style.left=left+"px";svg.style.top=top+"px";
  return svg;
}
chart.append(colorbar({left:1150,top:0,height:495,mt:30,mb:30,lo:-2,hi:19.5,step:0.5,tipLo:-3.09,tipHi:20.53,ticks:tempTicks,cm:tempCm,label:"T(°C)",labelY:8.75,fmt:d3.format(".1f")}));
chart.append(colorbar({left:1150,top:572,height:509,mt:43,mb:30,lo:29.5,hi:33.75,step:0.25,tipLo:29.29,tipHi:33.96,ticks:salTicks,cm:salCm,label:"S",labelY:31.61,fmt:d3.format(".1f")}));
</script>
</body>
</html>
